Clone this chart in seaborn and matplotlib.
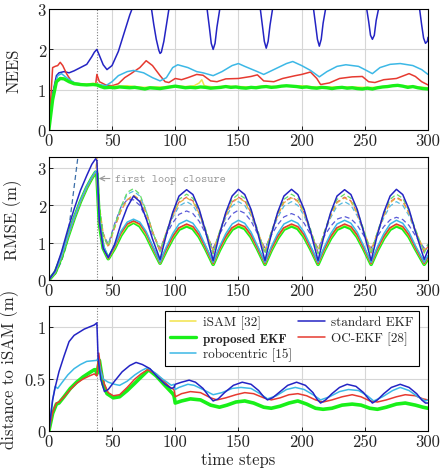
import matplotlib
matplotlib.use('Agg')
import matplotlib.pyplot as plt
from matplotlib.lines import Line2D
import seaborn as sns

# ---- data ----
steps_ticks = [0, 50, 100, 150, 200, 250, 300]
loop_closure = 38

# NEES panel (x, y) pairs
nees_std = [(0, 0), (3, 0.9), (6, 1.35), (8, 1.42), (12, 1.45), (16, 1.42), (20, 1.47), (25, 1.55),
            (30, 1.63), (34, 1.82), (36, 1.93), (38, 2.0), (40, 1.85), (43, 1.62), (46, 1.5), (50, 1.6),
            (55, 1.95), (60, 2.45), (64, 2.85), (67, 3.1), (72, 3.6), (78, 3.4),
            (81, 3.05), (83, 2.62), (85, 2.25), (87, 1.98), (88, 1.9), (89, 1.93), (91, 2.2), (93, 2.6),
            (95, 3.0), (99, 3.6), (110, 4.2), (120, 3.6),
            (125, 3.05), (127, 2.55), (128.5, 2.15), (130, 2.0), (131.5, 2.15), (133, 2.55), (135.5, 3.05),
            (140, 3.6), (152, 4.2), (162, 3.6),
            (167, 3.08), (169, 2.58), (170.5, 2.2), (172, 2.03), (173.5, 2.2), (175, 2.6), (177.5, 3.1),
            (182, 3.6), (194, 4.2), (204, 3.6),
            (209, 3.1), (211, 2.62), (212.5, 2.25), (214, 2.08), (215.5, 2.25), (217, 2.65), (219.5, 3.1),
            (224, 3.6), (236, 4.2), (246, 3.6),
            (251, 3.1), (253, 2.7), (254.5, 2.35), (256, 2.25), (257.5, 2.35), (259, 2.72), (261.5, 3.1),
            (266, 3.6), (278, 4.2), (288, 3.6),
            (293, 3.08), (295, 2.6), (296.5, 2.28), (298, 2.15), (299.5, 2.2), (300, 2.3)]
nees_oc = [(0, 0), (3, 1.55), (5, 1.58), (7, 1.6), (9, 1.68), (11, 1.6), (14, 1.4), (18, 1.2), (22, 1.15),
           (28, 1.12), (35, 1.15), (37, 1.12), (38, 1.38), (40, 1.2), (45, 1.12), (50, 1.1), (55, 1.15),
           (60, 1.3), (65, 1.4), (72, 1.55), (77, 1.72), (82, 1.6), (88, 1.35), (92, 1.2), (95, 1.18),
           (100, 1.28), (105, 1.25), (110, 1.3), (117, 1.38), (122, 1.36), (128, 1.22), (133, 1.2),
           (140, 1.27), (150, 1.28), (160, 1.33), (165, 1.37), (170, 1.22), (178, 1.2), (185, 1.28),
           (195, 1.35), (200, 1.38), (207, 1.44), (212, 1.28), (215, 1.13), (222, 1.17), (230, 1.28),
           (240, 1.32), (248, 1.33), (253, 1.2), (258, 1.18), (265, 1.25), (275, 1.28), (285, 1.4),
           (290, 1.33), (295, 1.2), (300, 1.12)]
nees_robo = [(0, 0), (4, 1.0), (7, 1.35), (10, 1.4), (14, 1.3), (20, 1.18), (30, 1.12), (37, 1.15),
             (45, 1.1), (50, 1.2), (55, 1.35), (62, 1.45), (67, 1.48), (75, 1.42), (82, 1.3), (88, 1.22),
             (93, 1.3), (98, 1.55), (102, 1.62), (110, 1.55), (117, 1.45), (122, 1.42), (130, 1.35),
             (137, 1.45), (145, 1.6), (150, 1.65), (155, 1.58), (165, 1.45), (170, 1.38), (178, 1.5),
             (188, 1.65), (193, 1.7), (200, 1.6), (207, 1.48), (214, 1.32), (220, 1.45), (228, 1.58),
             (235, 1.62), (245, 1.58), (250, 1.5), (256, 1.4), (262, 1.55), (270, 1.63), (278, 1.65),
             (288, 1.6), (295, 1.5), (300, 1.38)]
nees_isam = [(0, 0), (3, 0.8), (6, 1.22), (9, 1.3), (12, 1.28), (16, 1.2), (20, 1.16), (25, 1.15),
             (30, 1.14), (35, 1.16), (38, 1.15), (41, 1.1), (44, 1.07), (50, 1.08), (56, 1.09), (62, 1.1),
             (68, 1.08), (75, 1.06), (82, 1.07), (90, 1.07), (100, 1.1), (108, 1.08), (115, 1.1),
             (119, 1.17), (121, 1.25), (123, 1.1), (130, 1.07), (140, 1.09), (150, 1.08), (160, 1.07),
             (170, 1.09), (180, 1.08), (190, 1.1), (200, 1.1), (210, 1.07), (220, 1.07), (230, 1.07),
             (240, 1.07), (250, 1.06), (260, 1.06), (270, 1.1), (280, 1.1), (290, 1.08), (300, 1.05)]
nees_prop = [(0, 0), (3, 0.75), (6, 1.2), (9, 1.28), (12, 1.27), (16, 1.2), (20, 1.15), (25, 1.13),
             (30, 1.12), (35, 1.13), (38, 1.12), (41, 1.08), (44, 1.05), (48, 1.06), (52, 1.05), (56, 1.07),
             (60, 1.06), (64, 1.05), (68, 1.06), (72, 1.04), (76, 1.02), (80, 1.05), (84, 1.04), (88, 1.03),
             (92, 1.05), (96, 1.07), (100, 1.09), (104, 1.07), (108, 1.05), (112, 1.06), (116, 1.05),
             (120, 1.07), (124, 1.06), (128, 1.04), (132, 1.05), (136, 1.06), (140, 1.08), (144, 1.06),
             (148, 1.07), (152, 1.05), (156, 1.04), (160, 1.06), (164, 1.05), (168, 1.07), (172, 1.08),
             (176, 1.06), (180, 1.07), (184, 1.09), (188, 1.1), (192, 1.09), (196, 1.08), (200, 1.06),
             (204, 1.07), (208, 1.05), (212, 1.04), (216, 1.06), (220, 1.05), (224, 1.03), (228, 1.05),
             (232, 1.06), (236, 1.04), (240, 1.05), (244, 1.03), (248, 1.02), (252, 1.04), (256, 1.02),
             (260, 1.05), (264, 1.07), (268, 1.08), (272, 1.1), (276, 1.11), (280, 1.09), (284, 1.06),
             (288, 1.08), (292, 1.05), (296, 1.03), (300, 1.02)]

# RMSE panel, common time grid
t_rmse = [0, 5, 10, 15, 20, 25, 30, 34, 37, 38, 40, 43, 47, 52, 57, 62, 67, 72, 77, 82, 88,
          93, 98, 103, 109, 114, 119, 124, 130,
          135, 140, 145, 150, 155, 160, 165, 171,
          176, 181, 186, 192, 197, 202, 207, 213,
          218, 223, 228, 234, 239, 244, 249, 255,
          260, 265, 270, 275, 280, 285, 290, 297, 300]
rmse_std = [0, 0.25, 0.75, 1.35, 1.9, 2.4, 2.8, 3.1, 3.25, 3.2, 1.55, 0.85, 0.6, 0.95, 1.5, 1.95, 2.25, 2.1, 1.65, 1.1, 0.55,
            1.22, 1.81, 2.25, 2.42, 2.29, 1.89, 1.3, 0.52,
            1.22, 1.81, 2.25, 2.43, 2.29, 1.89, 1.3, 0.52,
            1.22, 1.81, 2.25, 2.43, 2.29, 1.89, 1.3, 0.52,
            1.22, 1.81, 2.25, 2.42, 2.29, 1.89, 1.3, 0.52,
            1.22, 1.81, 2.25, 2.43, 2.29, 1.89, 1.3, 0.55, 0.8]
rmse_robo = [0, 0.21, 0.64, 1.17, 1.67, 2.12, 2.5, 2.75, 2.91, 2.87, 1.6, 0.95, 0.6, 0.92, 1.3, 1.55, 1.63, 1.55, 1.3, 0.92, 0.48,
             0.89, 1.24, 1.5, 1.6, 1.52, 1.28, 0.92, 0.47,
             0.89, 1.24, 1.5, 1.6, 1.52, 1.28, 0.92, 0.47,
             0.89, 1.24, 1.5, 1.6, 1.52, 1.28, 0.92, 0.47,
             0.89, 1.24, 1.5, 1.6, 1.52, 1.28, 0.92, 0.47,
             0.89, 1.24, 1.5, 1.6, 1.52, 1.28, 0.92, 0.47, 0.66]
rmse_oc = [0, 0.2, 0.63, 1.16, 1.66, 2.11, 2.49, 2.74, 2.9, 2.86, 1.55, 0.88, 0.58, 0.88, 1.25, 1.5, 1.58, 1.5, 1.25, 0.88, 0.46,
           0.83, 1.16, 1.4, 1.5, 1.43, 1.2, 0.86, 0.44,
           0.83, 1.16, 1.4, 1.5, 1.43, 1.2, 0.86, 0.44,
           0.83, 1.16, 1.4, 1.5, 1.43, 1.2, 0.86, 0.44,
           0.83, 1.16, 1.4, 1.5, 1.43, 1.2, 0.86, 0.44,
           0.83, 1.16, 1.4, 1.5, 1.43, 1.2, 0.86, 0.44, 0.62]
rmse_isam = [0, 0.2, 0.62, 1.15, 1.65, 2.1, 2.48, 2.73, 2.89, 2.85, 1.52, 0.86, 0.57, 0.86, 1.22, 1.47, 1.56, 1.47, 1.22, 0.86, 0.45,
             0.81, 1.14, 1.38, 1.48, 1.41, 1.18, 0.85, 0.43,
             0.81, 1.14, 1.38, 1.48, 1.41, 1.18, 0.85, 0.43,
             0.81, 1.14, 1.38, 1.48, 1.41, 1.18, 0.85, 0.43,
             0.81, 1.14, 1.38, 1.48, 1.41, 1.18, 0.85, 0.43,
             0.81, 1.14, 1.38, 1.48, 1.41, 1.18, 0.85, 0.43, 0.6]
rmse_prop = [0, 0.2, 0.62, 1.15, 1.65, 2.1, 2.48, 2.73, 2.89, 2.85, 1.5, 0.85, 0.57, 0.85, 1.2, 1.45, 1.55, 1.45, 1.2, 0.85, 0.45,
             0.8, 1.12, 1.36, 1.45, 1.38, 1.16, 0.84, 0.42,
             0.8, 1.12, 1.36, 1.45, 1.38, 1.16, 0.84, 0.42,
             0.8, 1.12, 1.36, 1.45, 1.38, 1.16, 0.84, 0.42,
             0.8, 1.12, 1.36, 1.45, 1.38, 1.16, 0.84, 0.42,
             0.8, 1.12, 1.36, 1.45, 1.38, 1.16, 0.84, 0.42, 0.58]
# estimated-sigma curves (dashed)
sig_prop = [0, 0.2, 0.62, 1.15, 1.65, 2.1, 2.48, 2.73, 2.89, 2.85, 1.9, 1.2, 0.92, 1.45, 1.95, 2.35, 2.45, 2.3, 1.85, 1.3, 0.75,
            1.29, 1.79, 2.16, 2.3, 2.19, 1.85, 1.37, 0.7,
            1.29, 1.79, 2.16, 2.3, 2.19, 1.85, 1.37, 0.7,
            1.29, 1.79, 2.16, 2.3, 2.19, 1.85, 1.37, 0.7,
            1.29, 1.79, 2.16, 2.3, 2.19, 1.85, 1.37, 0.7,
            1.29, 1.79, 2.16, 2.3, 2.19, 1.85, 1.37, 0.72, 0.95]
sig_oc = [0, 0.2, 0.62, 1.15, 1.65, 2.1, 2.48, 2.73, 2.89, 2.85, 1.9, 1.2, 0.9, 1.4, 1.85, 2.15, 2.25, 2.15, 1.8, 1.3, 0.75,
          1.28, 1.74, 2.09, 2.22, 2.12, 1.8, 1.32, 0.72,
          1.28, 1.74, 2.09, 2.22, 2.12, 1.8, 1.32, 0.72,
          1.28, 1.74, 2.09, 2.22, 2.12, 1.8, 1.32, 0.72,
          1.28, 1.74, 2.09, 2.22, 2.12, 1.8, 1.32, 0.72,
          1.28, 1.74, 2.09, 2.22, 2.12, 1.8, 1.32, 0.74, 0.9]
sig_robo = [0, 0.2, 0.62, 1.15, 1.65, 2.1, 2.48, 2.73, 2.89, 2.85, 1.9, 1.2, 0.9, 1.45, 1.95, 2.3, 2.38, 2.25, 1.85, 1.3, 0.78,
            1.25, 1.67, 1.98, 2.1, 2.0, 1.72, 1.29, 0.75,
            1.25, 1.67, 1.98, 2.1, 2.0, 1.72, 1.29, 0.75,
            1.25, 1.67, 1.98, 2.1, 2.0, 1.72, 1.29, 0.75,
            1.25, 1.67, 1.98, 2.1, 2.0, 1.72, 1.29, 0.75,
            1.25, 1.67, 1.98, 2.1, 2.0, 1.72, 1.29, 0.77, 0.9]
sig_isam = [0, 0.2, 0.62, 1.15, 1.65, 2.1, 2.48, 2.73, 2.89, 3.3, 2.0, 1.25, 0.88, 1.4, 1.85, 2.15, 2.28, 2.15, 1.8, 1.3, 0.8,
            1.27, 1.72, 2.07, 2.2, 2.1, 1.78, 1.31, 0.8,
            1.27, 1.72, 2.07, 2.2, 2.1, 1.78, 1.31, 0.8,
            1.27, 1.72, 2.07, 2.2, 2.1, 1.78, 1.31, 0.8,
            1.27, 1.72, 2.07, 2.2, 2.1, 1.78, 1.31, 0.8,
            1.27, 1.72, 2.07, 2.2, 2.1, 1.78, 1.31, 0.8, 0.92]
sig_std = [0, 0.2, 0.62, 1.15, 1.65, 2.1, 2.48, 2.73, 2.89, 2.85, 1.9, 1.25, 0.95, 1.5, 1.95, 2.15, 2.15, 2.0, 1.65, 1.25, 0.85,
           1.22, 1.53, 1.76, 1.85, 1.78, 1.57, 1.25, 0.85,
           1.22, 1.53, 1.77, 1.87, 1.79, 1.58, 1.25, 0.85,
           1.2, 1.48, 1.69, 1.78, 1.71, 1.52, 1.22, 0.85,
           1.18, 1.44, 1.63, 1.7, 1.64, 1.47, 1.2, 0.85,
           1.17, 1.43, 1.61, 1.68, 1.62, 1.46, 1.19, 0.85, 0.95]
t_sig_early = [0, 5, 10, 14, 18, 23, 28, 33, 38]
sig_early = [0, 0.15, 0.5, 0.93, 1.95, 3.3, 4.6, 5.9, 7.2]

# distance to iSAM panel (x, y) pairs
dist_std = [(0, 0), (3, 0.3), (5, 0.42), (8, 0.57), (12, 0.72), (16, 0.86), (20, 0.92), (24, 0.95),
            (28, 0.98), (32, 1.0), (36, 1.02), (38, 1.04), (39, 0.7), (41, 0.5), (44, 0.38), (47, 0.4),
            (52, 0.48), (58, 0.57), (64, 0.63), (69, 0.66), (74, 0.64), (80, 0.6), (86, 0.52), (92, 0.45),
            (97, 0.41), (99, 0.42), (100, 0.45), (105, 0.47), (111, 0.49), (116, 0.47), (122, 0.41),
            (127, 0.33), (130, 0.29), (134, 0.31), (139, 0.37), (146, 0.44), (153, 0.47), (160, 0.45),
            (166, 0.39), (170, 0.33), (173, 0.3), (177, 0.32), (182, 0.37), (189, 0.44), (196, 0.47),
            (203, 0.44), (209, 0.37), (212, 0.31), (215, 0.27), (219, 0.3), (224, 0.36), (230, 0.42),
            (236, 0.45), (243, 0.43), (249, 0.37), (253, 0.31), (256, 0.27), (260, 0.3), (265, 0.36),
            (271, 0.42), (278, 0.45), (285, 0.42), (291, 0.36), (295, 0.3), (298, 0.27), (300, 0.27)]
dist_robo = [(0, 0), (3, 0.3), (5, 0.43), (7, 0.41), (10, 0.46), (15, 0.54), (20, 0.6), (25, 0.64),
             (30, 0.67), (38, 0.68), (39, 0.7), (41, 0.58), (43, 0.5), (47, 0.47), (52, 0.45), (56, 0.44),
             (62, 0.48), (68, 0.54), (73, 0.58), (78, 0.61), (84, 0.56), (90, 0.5), (97, 0.44), (99, 0.45),
             (100, 0.4), (103, 0.42), (110, 0.45), (115, 0.44), (122, 0.4), (130, 0.35), (137, 0.37),
             (145, 0.41), (152, 0.42), (160, 0.41), (167, 0.36), (173, 0.31), (180, 0.34), (188, 0.4),
             (195, 0.42), (202, 0.4), (209, 0.35), (215, 0.3), (222, 0.33), (230, 0.38), (237, 0.4),
             (245, 0.39), (252, 0.34), (257, 0.29), (264, 0.33), (272, 0.39), (278, 0.42), (285, 0.39),
             (292, 0.33), (298, 0.29), (300, 0.3)]
dist_oc = [(0, 0), (3, 0.18), (6, 0.27), (8, 0.28), (12, 0.33), (17, 0.4), (22, 0.46), (27, 0.5),
           (32, 0.53), (36, 0.55), (38, 0.53), (39.5, 0.75), (41, 0.6), (44, 0.45), (47, 0.37), (51, 0.34),
           (56, 0.35), (62, 0.42), (68, 0.5), (73, 0.55), (78, 0.59), (85, 0.55), (91, 0.48), (96, 0.42),
           (99, 0.4), (100, 0.33), (105, 0.36), (112, 0.38), (120, 0.37), (128, 0.32), (133, 0.3),
           (140, 0.32), (148, 0.35), (155, 0.37), (162, 0.36), (170, 0.32), (176, 0.3), (183, 0.32),
           (190, 0.35), (197, 0.36), (204, 0.34), (211, 0.3), (217, 0.28), (224, 0.3), (232, 0.33),
           (240, 0.35), (247, 0.33), (254, 0.29), (260, 0.28), (267, 0.3), (275, 0.33), (282, 0.35),
           (290, 0.34), (296, 0.31), (300, 0.3)]
dist_prop = [(0, 0), (3, 0.17), (6, 0.26), (8, 0.27), (12, 0.33), (17, 0.41), (22, 0.47), (27, 0.52),
             (32, 0.56), (36, 0.59), (37, 0.59), (38, 0.55), (40, 0.68), (43, 0.45), (46, 0.36), (51, 0.32),
             (56, 0.33), (62, 0.39), (68, 0.46), (73, 0.52), (79, 0.59), (85, 0.53), (91, 0.45), (98, 0.36),
             (99, 0.34), (100, 0.27), (105, 0.29), (112, 0.31), (120, 0.3), (128, 0.25), (135, 0.23),
             (141, 0.25), (148, 0.28), (155, 0.29), (162, 0.27), (170, 0.23), (176, 0.22), (183, 0.24),
             (190, 0.27), (197, 0.29), (204, 0.26), (211, 0.22), (217, 0.21), (224, 0.22), (232, 0.25),
             (240, 0.26), (247, 0.25), (254, 0.22), (260, 0.21), (267, 0.23), (275, 0.26), (282, 0.27),
             (290, 0.25), (296, 0.23), (300, 0.22)]

names = ['iSAM [32]', 'proposed EKF', 'robocentric [15]', 'standard EKF', 'OC-EKF [28]']
colors = {'iSAM [32]': '#f2e34a', 'proposed EKF': '#19f019', 'robocentric [15]': '#3cb8e6',
          'standard EKF': '#2424c4', 'OC-EKF [28]': '#e63a30'}
dash_colors = {'iSAM [32]': '#e8b040', 'proposed EKF': '#66dd66', 'robocentric [15]': '#55bbe0',
               'standard EKF': '#5a5ad8', 'OC-EKF [28]': '#e85a5a'}

sns.set_theme(style='whitegrid')
plt.rcParams['font.family'] = ['cmr10', 'DejaVu Serif']
plt.rcParams['mathtext.fontset'] = 'cm'
plt.rcParams['axes.formatter.use_mathtext'] = True

fig = plt.figure(figsize=(4.44, 4.77), dpi=100)
ax1 = fig.add_axes([0.110, 0.725, 0.854, 0.254])
ax2 = fig.add_axes([0.110, 0.411, 0.854, 0.258])
ax3 = fig.add_axes([0.110, 0.094, 0.854, 0.262])


def pairs(p):
    return [a for a, _ in p], [b for _, b in p]


def draw(ax, x, y, name, lw=1.1, ls='-', dashed=False):
    c = dash_colors[name] if dashed else colors[name]
    sns.lineplot(x=x, y=y, ax=ax, color=c, lw=lw, linestyle=ls, sort=False, estimator=None)


# NEES
for name, p in [('standard EKF', nees_std), ('OC-EKF [28]', nees_oc), ('robocentric [15]', nees_robo),
                ('iSAM [32]', nees_isam)]:
    draw(ax1, *pairs(p), name)
draw(ax1, *pairs(nees_prop), 'proposed EKF', lw=2.4)

# RMSE
sns.lineplot(x=t_sig_early, y=sig_early, ax=ax2, color='#3b6ea8', lw=0.9, linestyle=(0, (4, 2.5)))
for name, s in [('standard EKF', sig_std), ('robocentric [15]', sig_robo), ('OC-EKF [28]', sig_oc),
                ('iSAM [32]', sig_isam), ('proposed EKF', sig_prop)]:
    draw(ax2, t_rmse, s, name, lw=0.9, ls=(0, (4, 2.5)), dashed=True)
draw(ax2, t_rmse, rmse_prop, 'proposed EKF', lw=2.6)
draw(ax2, t_rmse, rmse_isam, 'iSAM [32]')
draw(ax2, t_rmse, rmse_oc, 'OC-EKF [28]')
draw(ax2, t_rmse, rmse_robo, 'robocentric [15]')
draw(ax2, t_rmse, rmse_std, 'standard EKF')
ax2.annotate('first loop closure', xy=(39.5, 2.72), xytext=(52, 2.72), fontfamily='cmtt10',
             fontsize=8.5, color='#9a9a9a', va='center',
             arrowprops=dict(arrowstyle='->', color='#9a9a9a', lw=0.8, shrinkA=1, shrinkB=0))

# distance to iSAM
draw(ax3, *pairs(dist_prop), 'proposed EKF', lw=2.6)
draw(ax3, *pairs(dist_oc), 'OC-EKF [28]')
draw(ax3, *pairs(dist_robo), 'robocentric [15]')
draw(ax3, *pairs(dist_std), 'standard EKF')

handles = [Line2D([], [], color=colors[n], lw=2.4 if n == 'proposed EKF' else 1.1) for n in names]
leg = ax3.legend(handles, names, ncol=2, loc='upper right', bbox_to_anchor=(0.975, 0.962),
                 borderaxespad=0, fontsize=9.5, frameon=True, fancybox=False, framealpha=1,
                 edgecolor='black', handlelength=2.0, columnspacing=0.5, labelspacing=0.25,
                 borderpad=0.35, handletextpad=0.5)
leg.get_frame().set_linewidth(0.8)
leg.get_texts()[1].set_fontfamily('cmb10')

for ax, ylim, yt, ytl, lab, lx in [(ax1, (0, 3), [0, 1, 2, 3], ['0', '1', '2', '3'], 'NEES', -0.072),
                                   (ax2, (0, 3.3), [0, 1, 2, 3], ['0', '1', '2', '3'], 'RMSE (m)', -0.072),
                                   (ax3, (0, 1.2), [0, 0.5, 1], ['0', '0.5', '1'], 'distance to iSAM (m)', -0.08)]:
    ax.axvline(loop_closure, color='#808080', lw=0.8, ls=(0, (1, 1.5)), zorder=1)
    ax.set_xlim(0, 300)
    ax.set_ylim(*ylim)
    ax.set_xticks(steps_ticks)
    ax.set_xticklabels([str(v) for v in steps_ticks])
    ax.set_yticks(yt)
    ax.set_yticklabels(ytl)
    ax.set_xlabel('')
    ax.set_ylabel(lab, fontsize=12)
    ax.yaxis.set_label_coords(lx, 0.5)
    ax.grid(True, color='#d6d6d6', lw=0.8)
    ax.set_facecolor('white')
    for s in ax.spines.values():
        s.set_color('black')
        s.set_linewidth(0.8)
    ax.tick_params(axis='both', labelsize=12, direction='in', length=3, width=0.6, color='black',
                   pad=2, left=True, bottom=True)

ax3.set_xlabel('time steps', fontsize=12, labelpad=2)

fig.savefig('out.png', dpi=100)
